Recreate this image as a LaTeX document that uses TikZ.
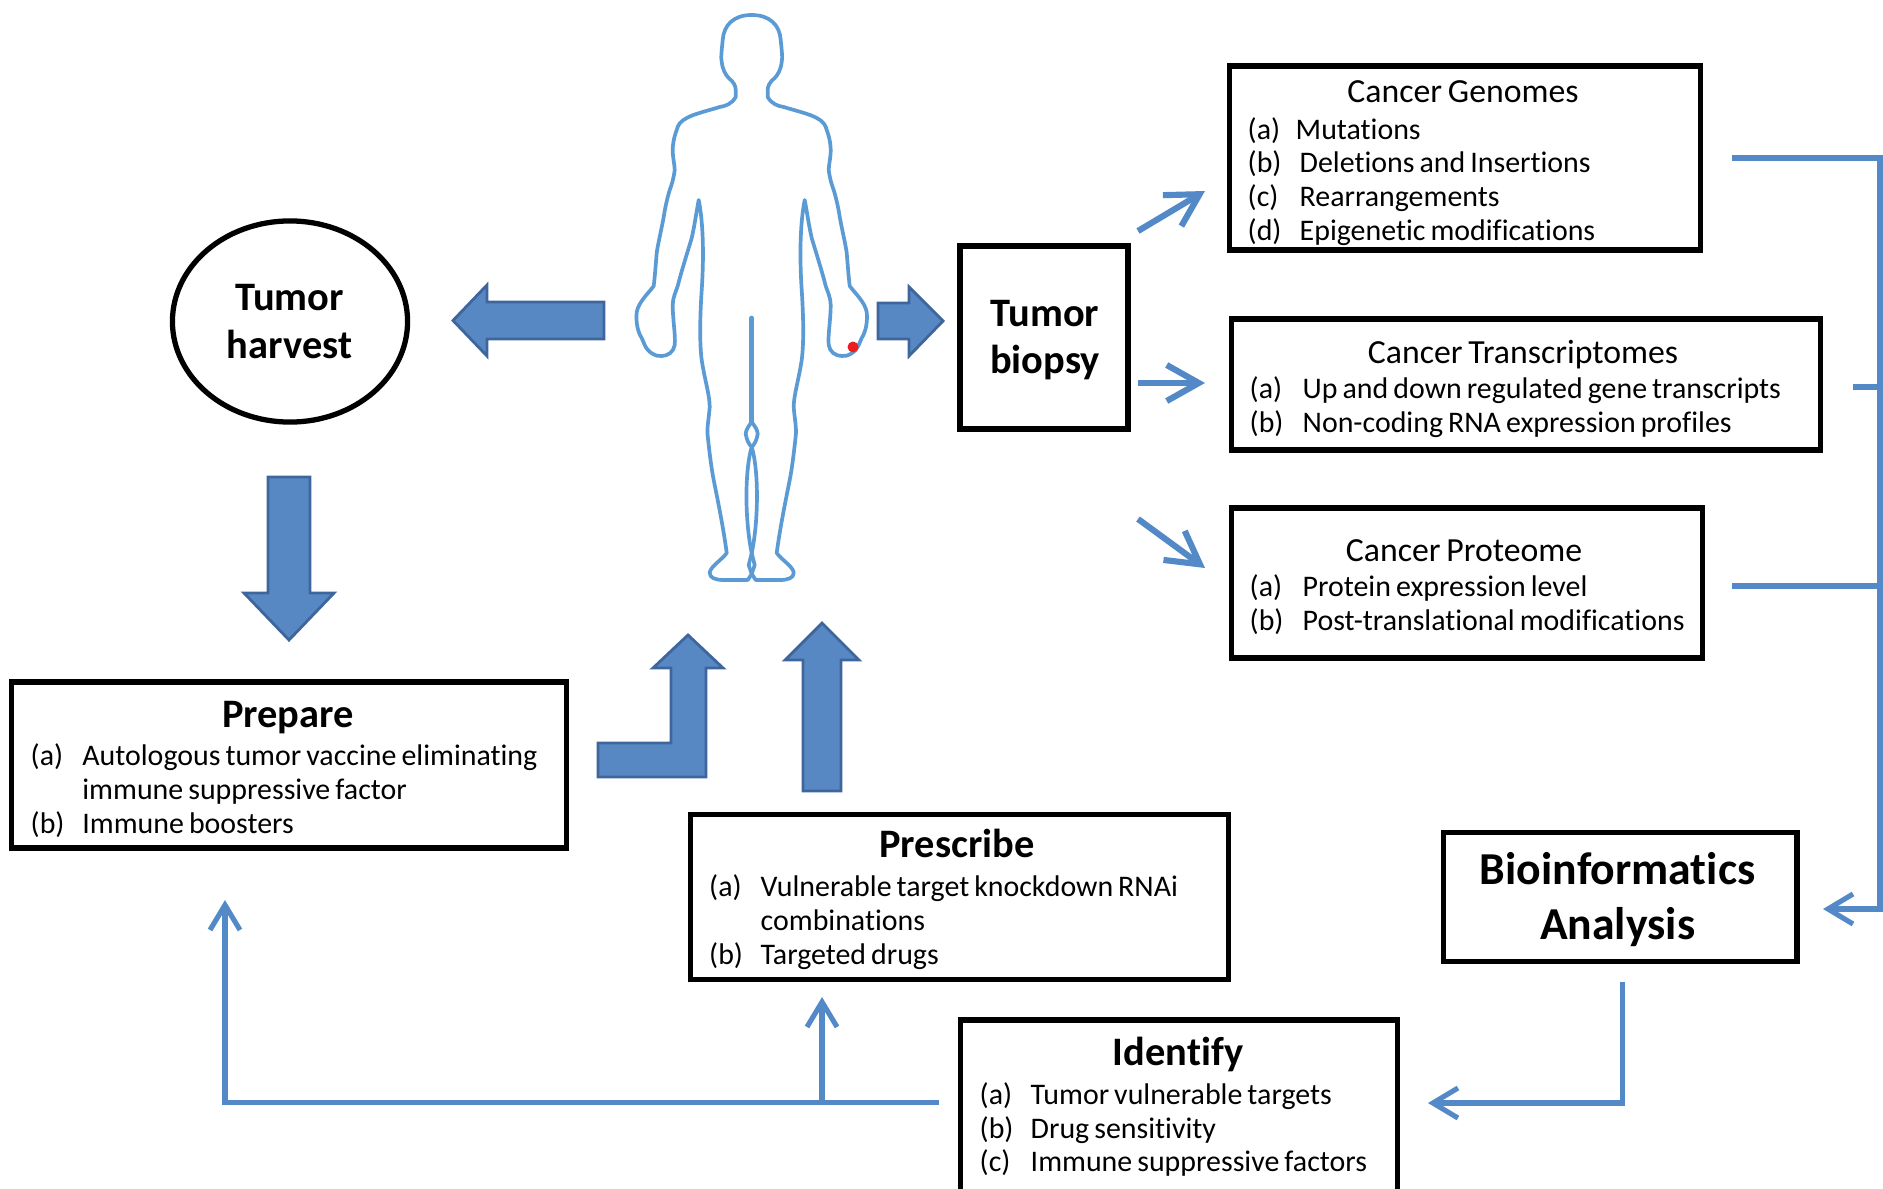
\documentclass[tikz,border=0pt]{standalone}
\usepackage{fontspec}
\setmainfont{Carlito}[WordSpace=0.75, Ligatures=NoCommon]
\usetikzlibrary{shapes.geometric,arrows.meta}
\definecolor{blkfill}{RGB}{88,136,196}
\definecolor{blkedge}{RGB}{62,102,156}
\definecolor{connc}{RGB}{84,137,200}
\definecolor{bodyc}{RGB}{91,155,213}
\definecolor{tumred}{RGB}{235,30,30}
\tikzset{
  box/.style={draw=black, line width=1.5pt, inner sep=0pt, fill=white},
  ttl/.style={font=\fontsize{9.6}{11}\selectfont, anchor=mid, inner sep=0pt, yshift=-0.036cm},
  btl/.style={font=\bfseries\fontsize{11.5}{13}\selectfont, anchor=mid, inner sep=0pt, yshift=-0.05cm},
  bigtl/.style={font=\bfseries\fontsize{13}{15}\selectfont, anchor=mid, inner sep=0pt, yshift=-0.065cm},
  itm/.style={font=\fontsize{8.5}{9.6}\selectfont, anchor=mid west, inner sep=0pt, yshift=-0.025cm},
  connl/.style={draw=connc, line width=1.45pt, line join=miter},
  conna/.style={connl, -{Straight Barb[length=2.5mm,width=3mm]}},
  thicka/.style={draw=connc, line width=1.75pt, -{Straight Barb[length=3.2mm,width=3.6mm]}},
  blockarrow/.style={fill=blkfill, draw=blkedge, line width=0.8pt, line join=miter},
  figline/.style={draw=bodyc, line width=1.05pt, line cap=round, line join=round},
}
\begin{document}
\begin{tikzpicture}[x=0.01cm, y=-0.01cm]
\useasboundingbox (0,0) rectangle (1883,1188);
\clip (0,0) rectangle (1883,1188);
\fill[white] (0,0) rectangle (1883,1188);

% ---------- human figure ----------
\begin{scope}[shift={(751.7,0)}]
  \foreach \s in {1,-1}{
  \begin{scope}[xscale=\s]
  \draw[figline] (0,15) .. controls (-18,15) and (-28,25) .. (-29,40)
    .. controls (-30,50) and (-31,58) .. (-30,62)
    .. controls (-29,70) and (-26,75) .. (-23,78)
    .. controls (-18,82) and (-16,86) .. (-16,90) -- (-16,97)
    .. controls (-20,104) and (-26,106) .. (-32,107)
    .. controls (-45,111) and (-58,114) .. (-65,118)
    .. controls (-71,121) and (-74,125) .. (-75,130)
    .. controls (-78,138) and (-79,145) .. (-79,150)
    .. controls (-79,158) and (-77,165) .. (-77,170)
    .. controls (-78,178) and (-80,185) .. (-82,190)
    .. controls (-85,200) and (-87,210) .. (-88,217)
    .. controls (-91,233) and (-94,245) .. (-95,253)
    .. controls (-96,265) and (-97,278) .. (-98,286)
    .. controls (-104,294) and (-113,302) .. (-115,312)
    .. controls (-116,322) and (-114,332) .. (-110,338) -- (-107,345)
    .. controls (-104,352) and (-96,357) .. (-90,356)
    .. controls (-84,356) and (-78,352) .. (-77,345)
    .. controls (-76,335) and (-79,320) .. (-79,305)
    .. controls (-79,298) and (-76,292) .. (-74,286)
    .. controls (-70,270) and (-62,245) .. (-60,238)
    .. controls (-57,225) and (-55,210) .. (-53,200)
    .. controls (-48,225) and (-48,260) .. (-50,290)
    .. controls (-52,320) and (-52,345) .. (-50,360)
    .. controls (-47,380) and (-42,395) .. (-42,407)
    .. controls (-43,420) and (-45,428) .. (-44,436)
    .. controls (-42,455) and (-40,470) .. (-38,480)
    .. controls (-33,505) and (-28,530) .. (-25,553)
    .. controls (-30,560) and (-42,567) .. (-42,573)
    .. controls (-42,578) and (-36,580) .. (-28,580)
    -- (-4,580) -- (0,574);
  \draw[figline] (0,422) .. controls (-3,426) and (-6,430) .. (-6,434)
    .. controls (-5,440) and (-3,444) .. (0,447)
    .. controls (-7,470) and (-7,520) .. (0,553) -- (-3,565) -- (0,574);
  \end{scope}}
  \draw[figline, line width=1.3pt] (0,318) -- (0,422);
\end{scope}
\fill[tumred] (853,347) circle[radius=0.055cm];

% ---------- nodes ----------
\node[draw=black, line width=1.5pt, ellipse, minimum width=2.35cm, minimum height=2.01cm, inner sep=0pt] (harv) at (290,321.5) {};
\node[btl] (harvA) at (289.5,297) {Tumor};
\node[btl] (harvB) at (289.5,345) {harvest};

\node[box, minimum width=1.68cm, minimum height=1.83cm] (bio) at (1044,337.5) {};
\node[btl] (bioA) at (1045,313) {Tumor};
\node[btl] (bioB) at (1045,360) {biopsy};

\node[box, minimum width=4.705cm, minimum height=1.84cm] (gen) at (1464.75,158) {};
\node[ttl] (genT) at (1463,91) {Cancer Genomes};
\node[itm] (genLa) at (1247,128.5) {(a)}; \node[itm] (genIa) at (1295,128.5) {Mutations};
\node[itm] (genLb) at (1247,162) {(b)};   \node[itm] (genIb) at (1299,162) {Deletions and Insertions};
\node[itm] (genLc) at (1247,196) {(c)};   \node[itm] (genIc) at (1299,196) {Rearrangements};
\node[itm] (genLd) at (1247,229.5) {(d)}; \node[itm] (genId) at (1299,229.5) {Epigenetic modifications};

\node[box, minimum width=5.88cm, minimum height=1.31cm] (tra) at (1526,384.5) {};
\node[ttl] (traT) at (1523,351) {Cancer Transcriptomes};
\node[itm] (traLa) at (1249,388) {(a)};   \node[itm] (traIa) at (1302,388) {Up and down regulated gene transcripts};
\node[itm] (traLb) at (1249,421.5) {(b)}; \node[itm] (traIb) at (1302,421.5) {Non-coding RNA expression profiles};

\node[box, minimum width=4.705cm, minimum height=1.5cm] (pro) at (1467,583) {};
\node[ttl] (proT) at (1464,549) {Cancer Proteome};
\node[itm] (proLa) at (1249,586) {(a)}; \node[itm] (proIa) at (1302,586) {Protein expression level};
\node[itm] (proLb) at (1249,620) {(b)}; \node[itm] (proIb) at (1302,620) {Post-translational modifications};

\node[box, minimum width=3.535cm, minimum height=1.295cm] (bia) at (1620,897) {};
\node[bigtl] (biaA) at (1617.6,869.5) {Bioinformatics};
\node[bigtl] (biaB) at (1617.6,924.7) {Analysis};

\node[box, minimum width=5.54cm, minimum height=1.66cm] (prep) at (289,765) {};
\node[btl] (prepT) at (288,714.5) {Prepare};
\node[itm] (prepLa) at (30,755) {(a)}; \node[itm] (prepIa) at (81.7,755) {Autologous tumor vaccine eliminating};
\node[itm] (prepIa2) at (81.7,789) {immune suppressive factor};
\node[itm] (prepLb) at (30,822.6) {(b)}; \node[itm] (prepIb) at (81.7,822.6) {Immune boosters};

\node[box, minimum width=5.38cm, minimum height=1.65cm] (pres) at (959.5,897) {};
\node[btl] (presT) at (957,844) {Prescribe};
\node[itm] (presLa) at (708.5,886) {(a)}; \node[itm] (presIa) at (760,886) {Vulnerable target knockdown RNAi};
\node[itm] (presIa2) at (760,920) {combinations};
\node[itm] (presLb) at (708.5,953.5) {(b)}; \node[itm] (presIb) at (760,953.5) {Targeted drugs};

\node[box, minimum width=4.37cm, minimum height=2cm] (iden) at (1179,1120) {};
\node[btl] (idenT) at (1178,1052) {Identify};
\node[itm] (idenLa) at (979,1094) {(a)}; \node[itm] (idenIa) at (1030,1094) {Tumor vulnerable targets};
\node[itm] (idenLb) at (979,1127.6) {(b)}; \node[itm] (idenIb) at (1030,1127.6) {Drug sensitivity};
\node[itm] (idenLc) at (979,1161) {(c)}; \node[itm] (idenIc) at (1030,1161) {Immune suppressive factors};

% ---------- block arrows ----------
\draw[blockarrow] (604,302) -- (487,302) -- (487,285) -- (453,320.5) -- (487,356) -- (487,339) -- (604,339) -- cycle;
\draw[blockarrow] (878,303) -- (909,303) -- (909,287) -- (943,321) -- (909,356) -- (909,339) -- (878,339) -- cycle;
\draw[blockarrow] (268,477) -- (310,477) -- (310,593) -- (334,593) -- (289,640) -- (244,593) -- (268,593) -- cycle;
\draw[blockarrow] (598,743) -- (671,743) -- (671,668) -- (653,668) -- (688,635) -- (723,668) -- (706,668) -- (706,777) -- (598,777) -- cycle;
\draw[blockarrow] (803,791) -- (803,660) -- (785,660) -- (822,623) -- (859,660) -- (841,660) -- (841,791) -- cycle;

% ---------- biopsy arrows ----------
\coordinate (b1s) at (1138,231); \coordinate (b1e) at (1205,191);
\coordinate (b2s) at (1138,383); \coordinate (b2e) at (1205,383);
\coordinate (b3s) at (1138,519); \coordinate (b3e) at (1205,568);
\draw[thicka] (b1s) -- (b1e);
\draw[thicka] (b2s) -- (b2e);
\draw[thicka] (b3s) -- (b3e);

% ---------- connectors ----------
\coordinate (genR) at (1732,158);
\coordinate (traR) at (1853,387);
\coordinate (proR) at (1732,586);
\coordinate (brkT) at (1880,387);
\coordinate (brkP) at (1880,586);
\coordinate (brkB) at (1880,909);
\coordinate (biaIn) at (1823,909);
\draw[conna] (genR) -| (brkB) -- (biaIn);
\draw[connl] (traR) -- (brkT);
\draw[connl] (proR) -- (brkP);

\coordinate (biaOut) at (1622.7,982);
\coordinate (idenIn) at (1428,1103);
\draw[conna] (biaOut) |- (idenIn);

\coordinate (idenOut) at (939,1102.5);
\coordinate (prepIn) at (225,900);
\coordinate (brn) at (822,1102.5);
\coordinate (presIn) at (822,997);
\draw[conna] (idenOut) -| (prepIn);
\draw[conna] (brn) -- (presIn);
\end{tikzpicture}
\end{document}
